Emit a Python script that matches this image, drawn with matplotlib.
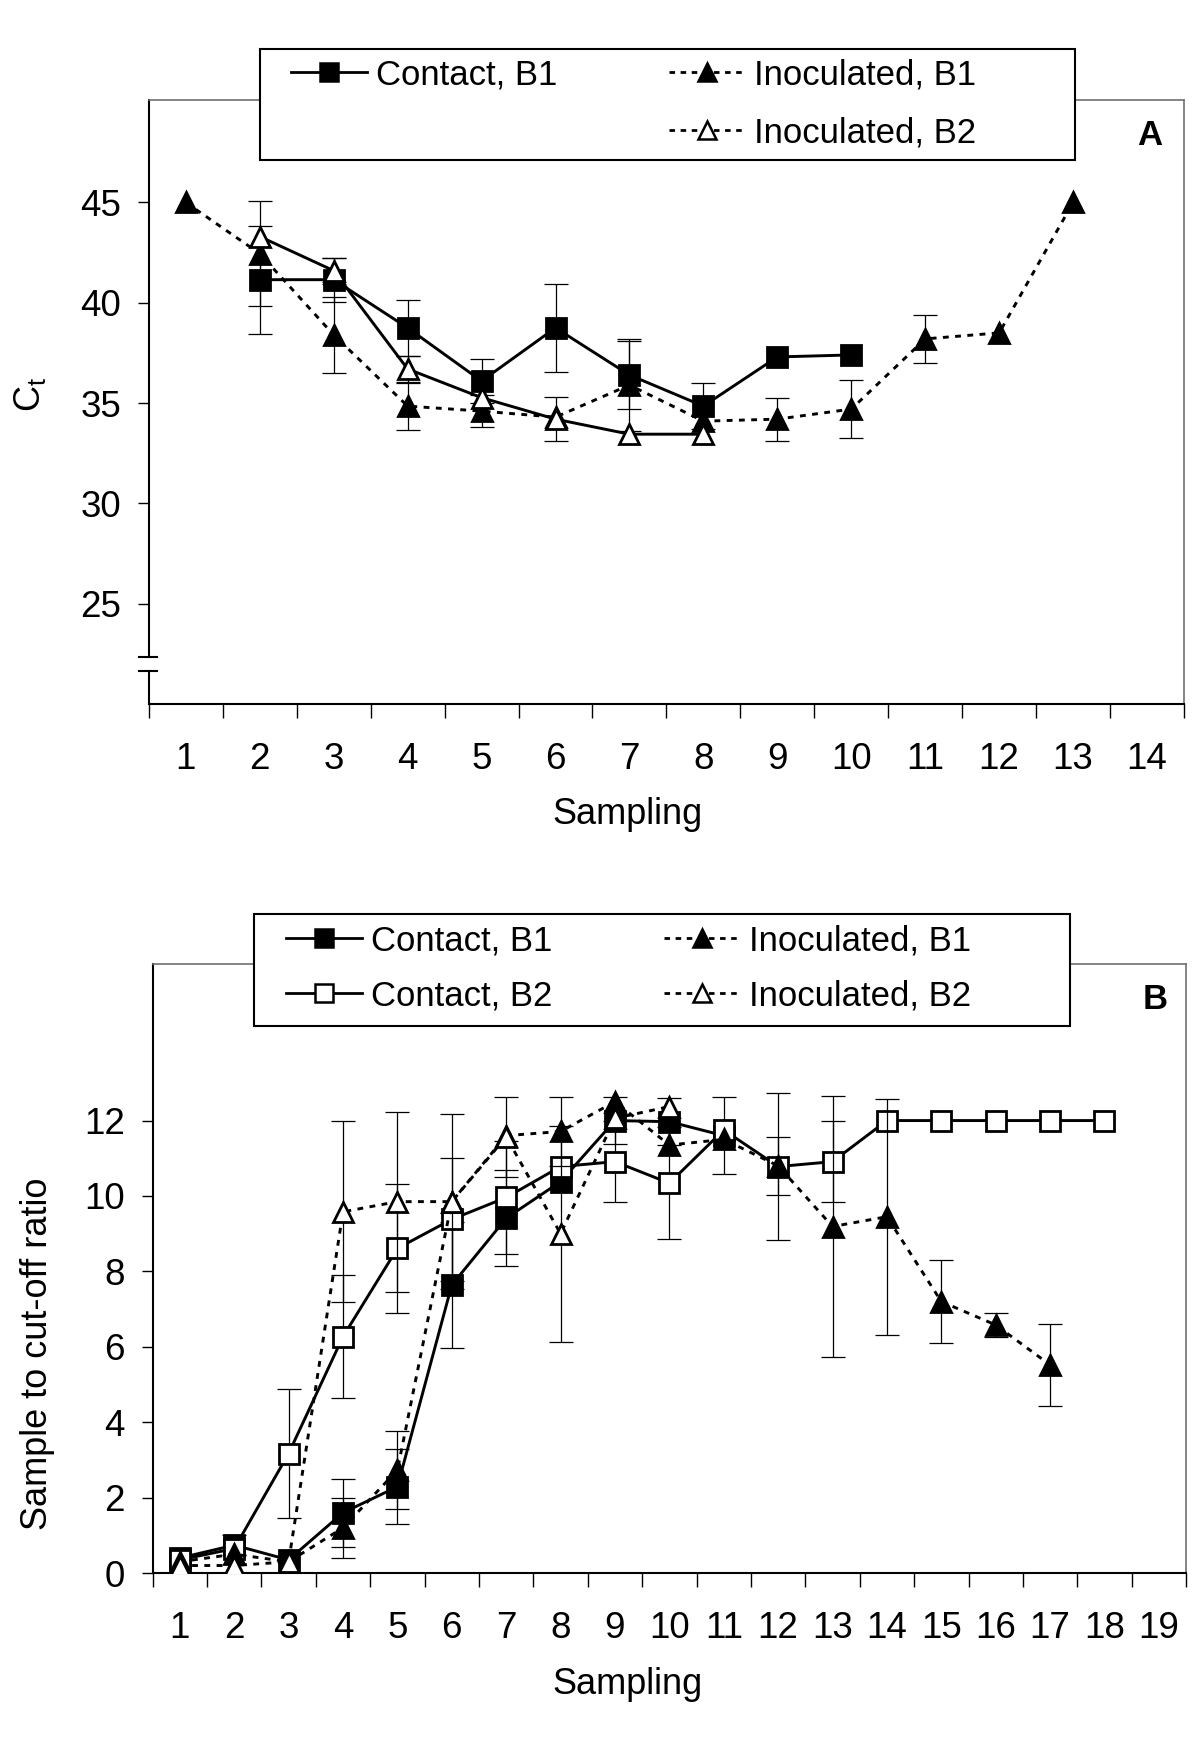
import numpy as np
import matplotlib.pyplot as plt
from matplotlib.lines import Line2D
from matplotlib.patches import Rectangle

plt.rcParams['font.family'] = ['Liberation Sans', 'DejaVu Sans']
plt.rcParams['mathtext.fontset'] = 'custom'
plt.rcParams['mathtext.rm'] = 'Liberation Sans'
plt.rcParams['mathtext.default'] = 'regular'

nan = np.nan

# ---- panel A: Ct values ----
a_contact_b1_x = [2, 3, 4, 5, 6, 7, 8, 9, 10]
a_contact_b1 = [41.15, 41.15, 38.75, 36.1, 38.75, 36.4, 34.85, 37.3, 37.4]
a_contact_b1_err = [2.7, 1.1, 1.4, 1.1, 2.2, 1.7, 1.15, nan, nan]

a_inoc_b1_x = [1, 2, 3, 4, 5, 6, 7, 8, 9, 10, 11, 12, 13]
a_inoc_b1 = [45, 42.45, 38.4, 34.85, 34.6, 34.3, 35.9, 34.1, 34.2, 34.7, 38.2, 38.5, 45]
a_inoc_b1_err = [nan, 2.6, 1.9, 1.17, 0.8, nan, 2.3, nan, 1.07, 1.44, 1.18, nan, nan]

a_inoc_b2_x = [2, 3, 4, 5, 6, 7, 8]
a_inoc_b2 = [43.3, 41.6, 36.7, 35.27, 34.2, 33.45, 33.45]
a_inoc_b2_err = [nan, 0.65, 0.67, nan, 1.1, nan, nan]

a_yticks = [25, 30, 35, 40, 45]

# ---- panel B: sample to cut-off ratio ----
b_contact_b1_x = list(range(1, 12))
b_contact_b1 = [0.4, 0.74, 0.35, 1.6, 2.29, 7.64, 9.41, 10.38, 12.0, 11.97, 11.6]
b_contact_b1_err = [nan, 0.26, nan, 0.9, 1.0, 1.66, 1.27, nan, 0.63, 0.63, 1.03]

b_contact_b2_x = list(range(1, 19))
b_contact_b2 = [0.35, 0.65, 3.17, 6.27, 8.61, 9.38, 9.96, 10.78, 10.91, 10.34,
                11.75, 10.78, 10.91, 12.0, 12.0, 12.0, 12.0, 12.0]
b_contact_b2_err = [nan, nan, 1.7, 1.63, 1.71, 1.64, 1.5, nan, 1.08, 1.49,
                    nan, 1.95, 1.08, nan, nan, nan, nan, nan]

b_inoc_b1_x = list(range(1, 18))
b_inoc_b1 = [0.3, 0.5, 0.3, 1.2, 2.73, 9.85, 11.6, 11.71, 12.5, 11.35, 11.5,
             10.8, 9.19, 9.45, 7.2, 6.58, 5.52]
b_inoc_b1_err = [nan, nan, nan, 0.8, 1.03, nan, nan, 0.92, nan, nan, nan,
                 0.77, 3.47, 3.13, 1.1, 0.31, 1.09]

b_inoc_b2_x = list(range(1, 11))
b_inoc_b2 = [0.2, 0.2, 0.3, 9.58, 9.85, 9.85, 11.57, 9.0, 12.06, 12.37]
b_inoc_b2_err = [nan, nan, nan, 2.4, 2.39, 2.32, 1.06, 2.86, nan, nan]

b_yticks = [0, 2, 4, 6, 8, 10, 12]

FS = 25
TICK_FS = 26.5
DOTS = (0, (2.0, 2.2))


def draw_series(ax, x, y, err, marker, filled, ls, ms, z):
    ax.errorbar(x, y, yerr=err, fmt='none', ecolor='black', elinewidth=0.9,
                capsize=8.3, capthick=0.9, zorder=z)
    ax.plot(x, y, linestyle=ls, color='black', lw=2.1, marker=marker, ms=ms,
            mfc='black' if filled else 'white', mec='black', mew=2.0, zorder=z + 0.5)


def style_axes(ax, ncat, yticks, ylim):
    ax.set_xlim(0.5, ncat + 0.5)
    ax.set_ylim(*ylim)
    ax.set_xticks(range(1, ncat + 1))
    ax.set_xticks(np.arange(0.5, ncat + 1, 1.0), minor=True)
    ax.tick_params(axis='x', which='major', length=0, labelsize=TICK_FS, pad=27)
    ax.tick_params(axis='x', which='minor', length=10, width=1.0, direction='out')
    ax.set_yticks(yticks)
    ax.tick_params(axis='y', length=8, width=1.0, direction='out', labelsize=TICK_FS, pad=12)
    for s in ['top', 'right']:
        ax.spines[s].set_color('#707070')
        ax.spines[s].set_linewidth(1.2)
    for s in ['left', 'bottom']:
        ax.spines[s].set_linewidth(1.5)


def legend_box(ax, x0, y0, x1, y1):
    ax.add_patch(Rectangle((x0, y0), x1 - x0, y1 - y0, transform=ax.transAxes,
                           facecolor='white', edgecolor='black', lw=1.5,
                           clip_on=False, zorder=20))


def handle(marker, filled, ls):
    return Line2D([], [], color='black', lw=2.0, linestyle=ls, marker=marker, ms=12.5,
                  mfc='black' if filled else 'white', mec='black', mew=1.8)


fig = plt.figure(figsize=(12, 17.38), dpi=100)

# ---------------- panel A ----------------
axA = fig.add_axes([0.124, 0.5949, 0.8627, 0.3475])
draw_series(axA, a_contact_b1_x, a_contact_b1, a_contact_b1_err, 's', True, '-', 15, 3)
draw_series(axA, a_inoc_b1_x, a_inoc_b1, a_inoc_b1_err, '^', True, DOTS, 15, 4)
draw_series(axA, a_inoc_b2_x, a_inoc_b2, a_inoc_b2_err, '^', False, '-', 15, 5)
style_axes(axA, 14, a_yticks, (20, 50.1))

# broken y axis
axA.spines['left'].set_visible(False)
ytr = axA.get_yaxis_transform()
axA.plot([0, 0], [20, 21.65], color='black', lw=1.5, transform=ytr, clip_on=False)
axA.plot([0, 0], [22.35, 50.1], color='black', lw=1.5, transform=ytr, clip_on=False)
for yb in [21.65, 22.35]:
    axA.plot([-0.009, 0.008], [yb, yb], color='black', lw=1.5, transform=ytr, clip_on=False)

legend_box(axA, 0.1074, 0.9007, 0.8947, 1.0844)
hA = [handle('s', True, '-'), Line2D([], [], linestyle='none'),
      handle('^', True, (0, (2, 2))), handle('^', False, (0, (2, 2)))]
lA = ['Contact, B1', ' ', 'Inoculated, B1', 'Inoculated, B2']
legA = axA.legend(hA, lA, ncol=2, frameon=False, loc='upper left',
                  bbox_to_anchor=(0.1374, 1.069), borderaxespad=0, borderpad=0,
                  handlelength=2.2, handletextpad=0.25, columnspacing=3.2,
                  labelspacing=0.72, fontsize=FS)
legA.set_zorder(21)

fig.text(0.958, 0.9223, 'A', fontsize=FS, fontweight='bold', ha='center', va='center')
fig.text(0.025, 0.7733, 'C$_{t}$', fontsize=26, rotation=90, ha='center', va='center')
fig.text(0.5225, 0.5311, 'Sampling', fontsize=26, ha='center', va='center')

# ---------------- panel B ----------------
axB = fig.add_axes([0.1272, 0.0949, 0.8612, 0.3504])
draw_series(axB, b_contact_b1_x, b_contact_b1, b_contact_b1_err, 's', True, '-', 14, 3)
draw_series(axB, b_contact_b2_x, b_contact_b2, b_contact_b2_err, 's', False, '-', 14, 4)
draw_series(axB, b_inoc_b1_x, b_inoc_b1, b_inoc_b1_err, '^', True, DOTS, 14, 5)
draw_series(axB, b_inoc_b2_x, b_inoc_b2, b_inoc_b2_err, '^', False, DOTS, 14, 6)
style_axes(axB, 19, b_yticks, (0, 16.15))

legend_box(axB, 0.0976, 0.8982, 0.8877, 1.0821)
hB = [handle('s', True, '-'), handle('s', False, '-'),
      handle('^', True, (0, (2, 2))), handle('^', False, (0, (2, 2)))]
lB = ['Contact, B1', 'Contact, B2', 'Inoculated, B1', 'Inoculated, B2']
legB = axB.legend(hB, lB, ncol=2, frameon=False, loc='upper left',
                  bbox_to_anchor=(0.129, 1.065), borderaxespad=0, borderpad=0,
                  handlelength=2.2, handletextpad=0.25, columnspacing=3.2,
                  labelspacing=0.62, fontsize=FS)
legB.set_zorder(21)

fig.text(0.9625, 0.4252, 'B', fontsize=FS, fontweight='bold', ha='center', va='center')
fig.text(0.031, 0.221, 'Sample to cut-off ratio', fontsize=26, rotation=90,
         ha='center', va='center')
fig.text(0.5233, 0.0305, 'Sampling', fontsize=26, ha='center', va='center')

fig.savefig('out.png', dpi=100)
